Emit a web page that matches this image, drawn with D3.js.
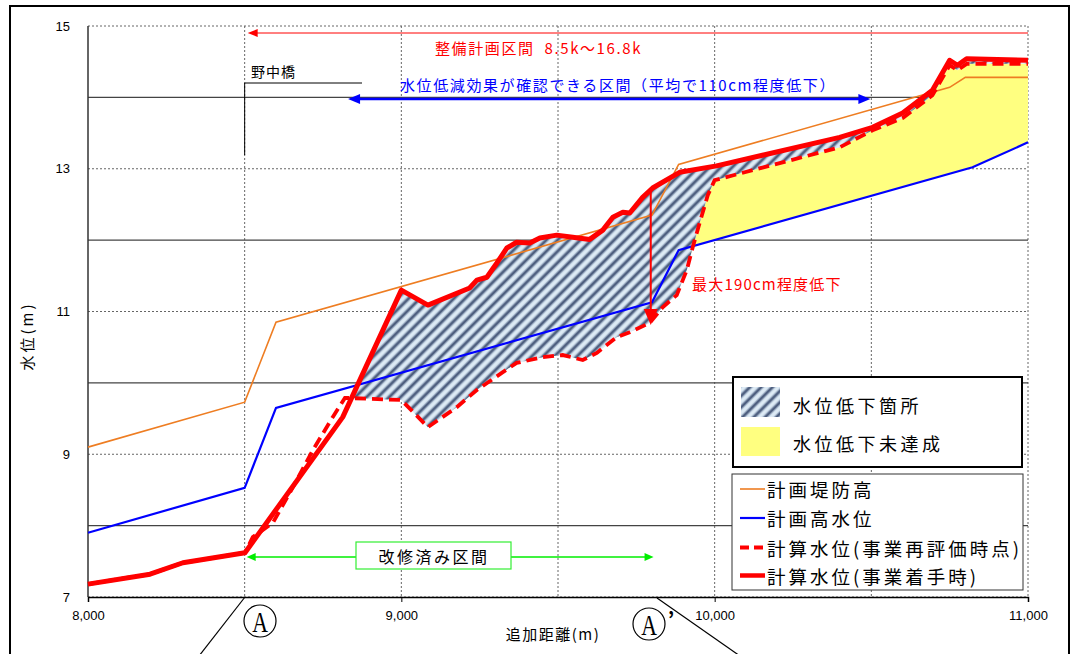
<!DOCTYPE html>
<html lang="ja">
<head>
<meta charset="UTF-8">
<title>水位縦断図</title>
<script src="https://d3js.org/d3.v7.min.js"></script>
<style>
  body { margin: 0; background: #fff; overflow: hidden; }
  svg { display: block; font-family: "Noto Sans CJK JP", "Noto Sans", sans-serif; }
</style>
</head>
<body>
<svg id="chart" width="1073" height="654"></svg>
<script>
// 計画堤防高
const dikeDist  = [8000, 8500, 8600, 9800, 9885, 10750, 10800, 11000];
const dikeLevel = [9.10, 9.73, 10.85, 12.35, 13.06, 14.14, 14.28, 14.28];

// 計画高水位
const hwlDist  = [8000, 8500, 8600, 9800, 9885, 10823, 11000];
const hwlLevel = [7.90, 8.53, 9.65, 11.13, 11.86, 13.02, 13.37];

// 計算水位(事業着手時)
const startDist  = [8000, 8198, 8303, 8501, 8813, 9000, 9085, 9218, 9241, 9273, 9305, 9337, 9368, 9410, 9442, 9496, 9547, 9601, 9643, 9675, 9707, 9729, 9770, 9802, 9888, 10006, 10399, 10504, 10600, 10695, 10750, 10775, 10804, 11000];
const startLevel = [7.18, 7.32, 7.48, 7.62, 9.52, 11.30, 11.09, 11.33, 11.44, 11.48, 11.68, 11.89, 11.97, 11.96, 12.03, 12.07, 12.04, 12.01, 12.14, 12.32, 12.39, 12.38, 12.60, 12.73, 12.95, 13.04, 13.44, 13.58, 13.78, 14.10, 14.52, 14.45, 14.54, 14.52];

// 計算水位(事業再評価時点)
const reevalDist  = [8000, 8198, 8303, 8501, 8526, 8590, 8654, 8718, 8781, 8820, 9000, 9085, 9177, 9241, 9324, 9368, 9451, 9515, 9579, 9624, 9687, 9729, 9793, 9834, 9879, 9911, 9930, 9952, 9978, 10000, 10399, 10504, 10600, 10695, 10750, 10775, 10804, 11000];
const reevalLevel = [7.18, 7.32, 7.48, 7.62, 7.84, 8.04, 8.54, 9.06, 9.52, 9.79, 9.76, 9.38, 9.66, 9.90, 10.15, 10.28, 10.36, 10.39, 10.32, 10.42, 10.64, 10.71, 10.84, 11.06, 11.23, 11.58, 11.90, 12.24, 12.63, 12.84, 13.30, 13.54, 13.71, 14.03, 14.45, 14.38, 14.47, 14.47];

const xTicks = [8000, 9000, 10000, 11000];
const yTicks = [7, 9, 11, 13, 15];
const ySolidGrid = [8, 10, 12, 14];
const xGrid = [8500, 9000, 9500, 10000, 10500, 11000];

// 区間 (m)
const planRange = [8500, 11000];
const effectRange = [8830, 10497];
const doneRange = [8500, 9805];
const hatchFrom = 8835;   // 水位低下箇所の始まり
const yellowFrom = 9925;  // 水位低下未達成の始まり
const maxDrop = [9796, 12.73, 10.81];

const svg = d3.select("#chart");
const x = d3.scaleLinear().domain([8000, 11000]).range([88, 1028]);
const y = d3.scaleLinear().domain([7, 15]).range([597, 26]);

const zip = (a, b) => a.map((d, i) => [d, b[i]]);
const dike = zip(dikeDist, dikeLevel);
const hwl = zip(hwlDist, hwlLevel);
const start = zip(startDist, startLevel);
const reeval = zip(reevalDist, reevalLevel);

const line = d3.line().x(d => x(d[0])).y(d => y(d[1]));

// 外枠
svg.append("rect").attr("x", 10).attr("y", 6).attr("width", 1059).attr("height", 700)
  .attr("fill", "#fff").attr("stroke", "#000").attr("stroke-width", 2);

const defs = svg.append("defs");
const grad = defs.append("linearGradient").attr("id", "stripe").attr("x1", 0).attr("x2", 1).attr("y1", 0).attr("y2", 0);
[[0, "#e6f2fa"], [0.22, "#c9d9e8"], [0.42, "#4f6080"], [0.58, "#4f6080"], [0.78, "#c9d9e8"], [1, "#e6f2fa"]]
  .forEach(([o, c]) => grad.append("stop").attr("offset", o).attr("stop-color", c));
const pat = defs.append("pattern").attr("id", "hatch")
  .attr("patternUnits", "userSpaceOnUse").attr("width", 8).attr("height", 8)
  .attr("patternTransform", "rotate(45)");
pat.append("rect").attr("width", 8).attr("height", 8).attr("fill", "url(#stripe)");

defs.append("clipPath").attr("id", "clipHatch").append("rect")
  .attr("x", x(hatchFrom)).attr("y", 0).attr("width", x(11000) - x(hatchFrom)).attr("height", 654);
defs.append("clipPath").attr("id", "clipYellow").append("rect")
  .attr("x", x(yellowFrom)).attr("y", 0).attr("width", x(11000) - x(yellowFrom)).attr("height", 654);

// グリッド
const grid = svg.append("g");
grid.selectAll(".gx").data(xGrid).join("line")
  .attr("x1", d => x(d)).attr("x2", d => x(d)).attr("y1", y(15)).attr("y2", y(7))
  .attr("stroke", "#666").attr("stroke-width", 1).attr("stroke-dasharray", "2,2");
grid.selectAll(".gy").data(yTicks).join("line")
  .attr("x1", x(8000)).attr("x2", x(11000)).attr("y1", d => y(d)).attr("y2", d => y(d))
  .attr("stroke", "#666").attr("stroke-width", 1).attr("stroke-dasharray", "2,2");
grid.selectAll(".gs").data(ySolidGrid).join("line")
  .attr("x1", x(8000)).attr("x2", x(11000)).attr("y1", d => y(d)).attr("y2", d => y(d))
  .attr("stroke", "#444").attr("stroke-width", 1.3);

// 水位低下未達成 (黄)
svg.append("path")
  .attr("d", line(reeval.concat(hwl.slice().reverse())) + "Z")
  .attr("fill", "#ffff80").attr("clip-path", "url(#clipYellow)");

// 水位低下箇所 (ハッチ)
svg.append("path")
  .attr("d", line(start.concat(reeval.slice().reverse())) + "Z")
  .attr("fill", "url(#hatch)").attr("clip-path", "url(#clipHatch)");

// 軸
svg.append("line").attr("x1", x(8000)).attr("x2", x(8000)).attr("y1", y(15)).attr("y2", y(7))
  .attr("stroke", "#333").attr("stroke-width", 1.5);
const xAxis = svg.append("g").attr("transform", `translate(0,${y(7)})`)
  .call(d3.axisBottom(x).tickValues(xTicks).tickFormat(d3.format(",")).tickSize(5).tickPadding(9));
xAxis.select(".domain").attr("stroke", "#000").attr("stroke-width", 1.5);
xAxis.selectAll("text").attr("font-family", "Liberation Sans, Arial, sans-serif").attr("font-size", 13).attr("fill", "#000");

svg.append("g").selectAll("text").data(yTicks).join("text")
  .attr("x", 70).attr("y", d => y(d)).attr("text-anchor", "end").attr("dominant-baseline", "central")
  .attr("font-family", "Liberation Sans, Arial, sans-serif").attr("font-size", 13).text(d => d);

svg.append("text").attr("x", 553).attr("y", 633).attr("text-anchor", "middle")
  .attr("dominant-baseline", "central").attr("font-size", 15).attr("letter-spacing", 1.5).text("追加距離(m)");
svg.append("text").attr("transform", "translate(26,336) rotate(-90)").attr("text-anchor", "middle")
  .attr("dominant-baseline", "central").attr("font-size", 15).attr("letter-spacing", 3).text("水位(m)");

// 系列
svg.append("path").attr("d", line(dike)).attr("fill", "none").attr("stroke", "#ee7d22").attr("stroke-width", 1.6);
svg.append("path").attr("d", line(hwl)).attr("fill", "none").attr("stroke", "#0000ff").attr("stroke-width", 2.2);
svg.append("path").attr("d", line(reeval)).attr("fill", "none").attr("stroke", "#ff0000").attr("stroke-width", 3.8)
  .attr("stroke-dasharray", "11,6");
svg.append("path").attr("d", line(start)).attr("fill", "none").attr("stroke", "#ff0000").attr("stroke-width", 5)
  .attr("stroke-linejoin", "round");

// 矢印
function arrowHead(tx, ty, dir, len, half, color) {
  // dir: angle in radians pointing toward tip
  const bx = tx - Math.cos(dir) * len, by = ty - Math.sin(dir) * len;
  const px = -Math.sin(dir) * half, py = Math.cos(dir) * half;
  svg.append("path").attr("d", `M${tx},${ty}L${bx + px},${by + py}L${bx - px},${by - py}Z`).attr("fill", color);
}

// 整備計画区間
const yPlan = 33;
svg.append("line").attr("x1", x(planRange[0]) + 6).attr("x2", x(planRange[1])).attr("y1", yPlan).attr("y2", yPlan)
  .attr("stroke", "#ff0000").attr("stroke-width", 1);
arrowHead(x(planRange[0]) + 3, yPlan, Math.PI, 10, 4, "#ff0000");
svg.append("text").attr("x", 435).attr("y", 47).attr("dominant-baseline", "central")
  .attr("font-size", 15).attr("letter-spacing", 1.6).attr("fill", "#ff0000").text("整備計画区間\u00a0\u00a08.5k～16.8k");

// 野中橋
svg.append("path").attr("d", `M${x(8500)},155V83H362`).attr("fill", "none").attr("stroke", "#000").attr("stroke-width", 1);
svg.append("text").attr("x", 251).attr("y", 71).attr("dominant-baseline", "central")
  .attr("font-size", 14).attr("letter-spacing", 1).text("野中橋");

// 水位低減効果
const yEff = 99;
svg.append("line").attr("x1", x(effectRange[0]) + 8).attr("x2", x(effectRange[1]) - 8).attr("y1", yEff).attr("y2", yEff)
  .attr("stroke", "#0000ff").attr("stroke-width", 2.5);
arrowHead(x(effectRange[0]), yEff, Math.PI, 12, 5, "#0000ff");
arrowHead(x(effectRange[1]), yEff, 0, 12, 5, "#0000ff");
svg.append("text").attr("x", 400).attr("y", 84).attr("dominant-baseline", "central")
  .attr("font-size", 15).attr("letter-spacing", 1.6).attr("fill", "#0000ff")
  .text("水位低減効果が確認できる区間（平均で110cm程度低下）");

// 最大低下
svg.append("line").attr("x1", x(maxDrop[0])).attr("x2", x(maxDrop[0])).attr("y1", y(maxDrop[1])).attr("y2", y(maxDrop[2]) - 14)
  .attr("stroke", "#ff0000").attr("stroke-width", 2);
arrowHead(x(maxDrop[0]), y(maxDrop[2]), Math.PI / 2, 16, 7, "#ff0000");
svg.append("text").attr("x", 692).attr("y", 283).attr("dominant-baseline", "central")
  .attr("font-size", 15).attr("letter-spacing", 1.2).attr("fill", "#ff0000").text("最大190cm程度低下");

// 改修済み区間
const yDone = 557;
svg.append("line").attr("x1", x(doneRange[0]) + 8).attr("x2", x(doneRange[1]) - 8).attr("y1", yDone).attr("y2", yDone)
  .attr("stroke", "#00ee00").attr("stroke-width", 1.5);
arrowHead(x(doneRange[0]) + 2, yDone, Math.PI, 9, 4, "#00ee00");
arrowHead(x(doneRange[1]), yDone, 0, 9, 4, "#00ee00");
svg.append("rect").attr("x", 356).attr("y", 542).attr("width", 155).attr("height", 27)
  .attr("fill", "#fff").attr("stroke", "#33ee33").attr("stroke-width", 1.2);
svg.append("text").attr("x", 434).attr("y", 556).attr("text-anchor", "middle").attr("dominant-baseline", "central")
  .attr("font-size", 16).attr("letter-spacing", 2.5).text("改修済み区間");

// 断面記号
svg.append("line").attr("x1", 245).attr("y1", 597).attr("x2", 199).attr("y2", 656).attr("stroke", "#000").attr("stroke-width", 1.2);
svg.append("line").attr("x1", 657).attr("y1", 598).attr("x2", 740).attr("y2", 656).attr("stroke", "#000").attr("stroke-width", 1.2);
[[260, 621], [649, 624]].forEach(([cx, cy]) => {
  svg.append("circle").attr("cx", cx).attr("cy", cy).attr("r", 16).attr("fill", "#fff").attr("stroke", "#000").attr("stroke-width", 1.2);
  svg.append("text").attr("transform", `translate(${cx},${cy + 1}) scale(0.75,1)`)
    .attr("text-anchor", "middle").attr("dominant-baseline", "central")
    .attr("font-family", "Liberation Serif, serif").attr("font-size", 29).text("A");
});
svg.append("text").attr("x", 671).attr("y", 618).attr("text-anchor", "middle").attr("dominant-baseline", "central")
  .attr("font-size", 20).attr("font-weight", "bold").text("’");

// 凡例 (面)
svg.append("rect").attr("x", 733).attr("y", 377).attr("width", 289).attr("height", 90)
  .attr("fill", "#fff").attr("stroke", "#000").attr("stroke-width", 2);
svg.append("rect").attr("x", 741).attr("y", 387).attr("width", 39).attr("height", 30).attr("fill", "url(#hatch)");
svg.append("rect").attr("x", 741).attr("y", 427).attr("width", 39).attr("height", 29).attr("fill", "#ffff80");
svg.append("text").attr("x", 793).attr("y", 405).attr("dominant-baseline", "central")
  .attr("font-size", 18).attr("letter-spacing", 3.5).text("水位低下箇所");
svg.append("text").attr("x", 793).attr("y", 443).attr("dominant-baseline", "central")
  .attr("font-size", 18).attr("letter-spacing", 3.5).text("水位低下未達成");

// 凡例 (線)
svg.append("rect").attr("x", 732).attr("y", 474).attr("width", 291).attr("height", 116)
  .attr("fill", "#fff").attr("stroke", "#333").attr("stroke-width", 1);
const legendRows = [
  { label: "計画堤防高", color: "#ee7d22", w: 1.6, dash: null, cy: 489 },
  { label: "計画高水位", color: "#0000ff", w: 2.2, dash: null, cy: 518 },
  { label: "計算水位(事業再評価時点)", color: "#ff0000", w: 4, dash: "9,5", cy: 547.5 },
  { label: "計算水位(事業着手時)", color: "#ff0000", w: 4.5, dash: null, cy: 575.5 }
];
legendRows.forEach(r => {
  svg.append("line").attr("x1", 740).attr("x2", 765).attr("y1", r.cy).attr("y2", r.cy)
    .attr("stroke", r.color).attr("stroke-width", r.w).attr("stroke-dasharray", r.dash);
  svg.append("text").attr("x", 767).attr("y", r.cy).attr("dominant-baseline", "central")
    .attr("font-size", 18.5).attr("letter-spacing", 3).text(r.label);
});
</script>
</body>
</html>
